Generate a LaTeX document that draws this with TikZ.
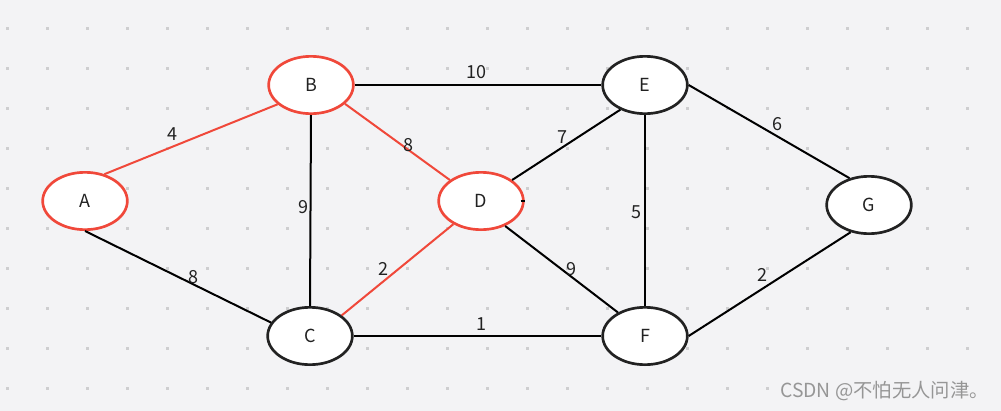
\documentclass[tikz,border=0pt]{standalone}
\usepackage{fontspec}
\setmainfont{Noto Sans CJK SC}
\usetikzlibrary{shapes.geometric}
\definecolor{bgcol}{RGB}{243,243,245}
\definecolor{dotcol}{RGB}{206,206,208}
\definecolor{redline}{RGB}{240,72,58}
\definecolor{inkcol}{RGB}{34,34,34}
\definecolor{markgray}{RGB}{150,150,150}
\tikzset{
  vertex/.style={ellipse, draw=inkcol, line width=2pt, fill=white, minimum width=63.5pt, minimum height=43pt, inner sep=0pt, font=\fontsize{13.5}{15}\selectfont, text=inkcol},
  redvertex/.style={vertex, draw=redline},
  edge/.style={line width=1.5pt, draw=black},
  rededge/.style={edge, draw=redline},
  weight/.style={font=\fontsize{13.5}{15}\selectfont, text=inkcol, inner sep=1pt}
}
\begin{document}
\begin{tikzpicture}[x=0.75pt,y=-0.75pt]
\fill[bgcol] (0,0) rectangle (1001,411);
\useasboundingbox (0,0) rectangle (1001,411);
% dot grid
\foreach \i in {0,...,24} {
  \foreach \j in {0,...,8} {
    \fill[dotcol] (7+40*\i-1.5,28+40*\j-1.5) rectangle ++(3,3);
  }
}
\foreach \i in {0,...,19} {
  \fill[dotcol] (7+40*\i-1.5,388-1.5) rectangle ++(3,3);
}
% vertices
\node[redvertex] (A) at (85,201) {A};
\node[redvertex] (B) at (311,85) {B};
\node[vertex] (C) at (310,336) {C};
\node[redvertex] (D) at (481,201) {D};
\node[vertex] (E) at (645,85) {E};
\node[vertex] (F) at (645,336) {F};
\node[vertex] (G) at (869,205) {G};
% edges
\draw[rededge] (A.54) -- (B.210);
\draw[edge] (A.south) -- (C.161);
\draw[edge] (B.south) -- (C.north);
\draw[rededge] (B.331) -- (D.146);
\draw[edge] (B.east) -- (E.west);
\draw[rededge] (C.33) -- (D.220);
\draw[edge] (C.east) -- (F.west);
\draw[edge] (D.34) -- (E.225);
\draw[edge] (D.314) -- (F.139);
\draw[edge] (E.south) -- (F.north);
\draw[edge] (E.east) -- (G.126);
\draw[edge] (F.east) -- (G.236);
\draw[edge] ([xshift=-3pt]D.east) -- (D.east);
% weights
\node[weight] (wAB) at (172,134) {4};
\node[weight] (wAC) at (193,277) {8};
\node[weight] (wBC) at (303,207) {9};
\node[weight] (wBD) at (408,145) {8};
\node[weight] (wBE) at (476,72) {10};
\node[weight] (wCD) at (383,269) {2};
\node[weight] (wCF) at (481,324) {1};
\node[weight] (wDE) at (562,137) {7};
\node[weight] (wDF) at (571,269) {9};
\node[weight] (wEF) at (636,212) {5};
\node[weight] (wEG) at (777,124) {6};
\node[weight] (wFG) at (762,275) {2};
% watermark
\node[anchor=east, text=markgray, font=\fontsize{14.5}{16}\selectfont, inner sep=0pt] (mark) at (989,391) {CSDN @不怕无人问津。};
\end{tikzpicture}
\end{document}
